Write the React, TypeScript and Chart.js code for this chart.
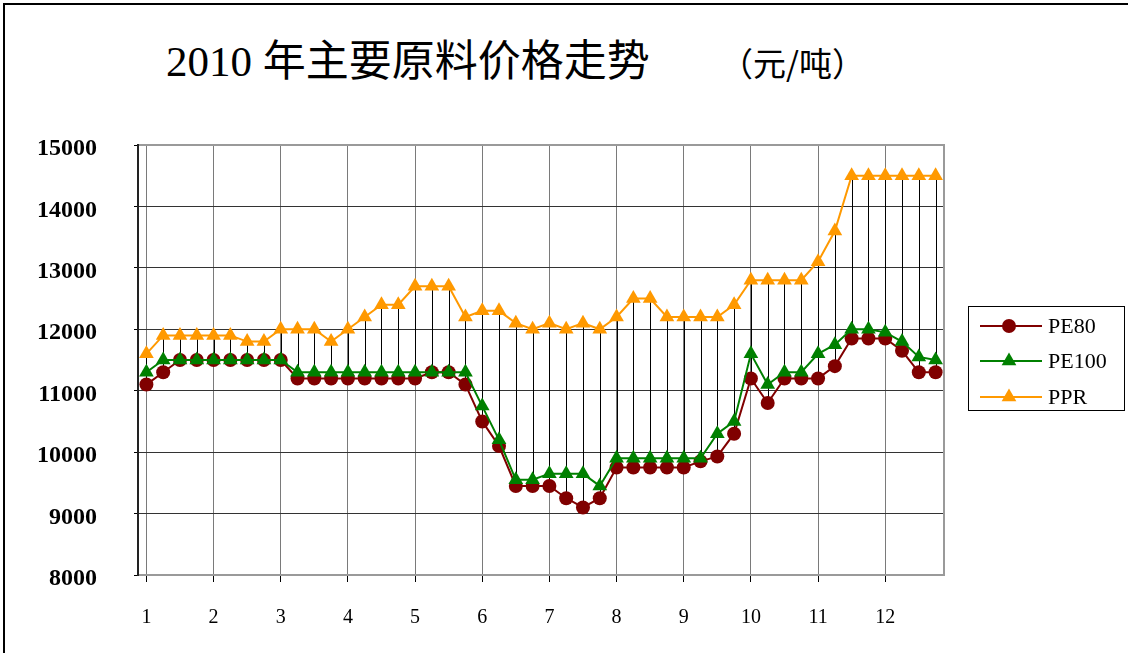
import React, { useEffect, useRef } from 'react';
import { Chart, registerables } from 'chart.js';

Chart.register(...registerables);

const monthLabels = ['1', '2', '3', '4', '5', '6', '7', '8', '9', '10', '11', '12'];
const pointsPerMonth = 4;

const pe80 = [
  11100, 11300, 11500, 11500, 11500, 11500, 11500, 11500, 11500, 11200, 11200, 11200,
  11200, 11200, 11200, 11200, 11200, 11300, 11300, 11100, 10500, 10100, 9450, 9450,
  9450, 9250, 9100, 9250, 9750, 9750, 9750, 9750, 9750, 9850, 9930, 10300,
  11200, 10800, 11200, 11200, 11200, 11400, 11850, 11850, 11850, 11650, 11300, 11300,
];
const pe100 = [
  11300, 11500, 11500, 11500, 11500, 11500, 11500, 11500, 11500, 11300, 11300, 11300,
  11300, 11300, 11300, 11300, 11300, 11300, 11300, 11300, 10750, 10200, 9550, 9550,
  9650, 9650, 9650, 9450, 9900, 9900, 9900, 9900, 9900, 9900, 10300, 10500,
  11600, 11100, 11300, 11300, 11600, 11750, 12000, 12000, 11950, 11800, 11550, 11500,
];
const ppr = [
  11600, 11900, 11900, 11900, 11900, 11900, 11800, 11800, 12000, 12000, 12000, 11800,
  12000, 12200, 12400, 12400, 12700, 12700, 12700, 12200, 12300, 12300, 12100, 12000,
  12100, 12000, 12100, 12000, 12200, 12500, 12500, 12200, 12200, 12200, 12200, 12400,
  12800, 12800, 12800, 12800, 13100, 13600, 14500, 14500, 14500, 14500, 14500, 14500,
];

const seriesNames = ['PE80', 'PE100', 'PPR'];
const seriesColors = ['#800000', '#008000', '#FF9900'];
const seriesMarkers = ['circle', 'triangle', 'triangle'];
const yMin = 8000;
const yMax = 15000;
const yStep = 1000;

const titleMain = '2010 年主要原料价格走势';
const titleUnit = '（元/吨）';

const categories = pe80.map((_, i) =>
  i % pointsPerMonth === 0 ? monthLabels[i / pointsPerMonth] : ''
);

const hiLoPlugin = {
  id: 'hiLo',
  beforeDatasetsDraw(chart: any) {
    const { ctx, chartArea } = chart;
    const xs = chart.scales.x;
    const ys = chart.scales.y;
    ctx.save();
    ctx.strokeStyle = '#9a9a9a';
    ctx.lineWidth = 2;
    ctx.strokeRect(chartArea.left, chartArea.top, chartArea.right - chartArea.left, chartArea.bottom - chartArea.top);
    ctx.strokeStyle = '#222';
    ctx.lineWidth = 2;
    ctx.beginPath();
    ctx.moveTo(chartArea.left, chartArea.top - 1);
    ctx.lineTo(chartArea.left, chartArea.bottom + 1);
    ctx.stroke();
    ctx.strokeStyle = '#000';
    ctx.lineWidth = 1;
    const n = chart.data.labels.length;
    for (let i = 0; i < n; i++) {
      const vals = chart.data.datasets.map((d: any) => d.data[i]);
      const hi = Math.max(...vals);
      const lo = Math.min(...vals);
      const px = Math.round(xs.getPixelForValue(i)) + 0.5;
      ctx.beginPath();
      ctx.moveTo(px, ys.getPixelForValue(hi));
      ctx.lineTo(px, ys.getPixelForValue(lo));
      ctx.stroke();
    }
    ctx.restore();
  },
};

const legendPlugin = {
  id: 'boxLegend',
  afterDraw(chart: any) {
    const ctx = chart.ctx;
    ctx.save();
    const bx = 968, by = 306, bw = 156, bh = 104;
    ctx.strokeStyle = '#000';
    ctx.lineWidth = 1;
    ctx.strokeRect(bx + 0.5, by + 0.5, bw, bh);
    const rows = [326, 361, 397];
    seriesNames.forEach((name, i) => {
      const y = rows[i];
      ctx.strokeStyle = seriesColors[i];
      ctx.lineWidth = 2;
      ctx.beginPath();
      ctx.moveTo(980, y);
      ctx.lineTo(1042, y);
      ctx.stroke();
      ctx.fillStyle = seriesColors[i];
      ctx.beginPath();
      if (seriesMarkers[i] === 'circle') {
        ctx.arc(1009, y, 7, 0, Math.PI * 2);
      } else {
        const r = 8.5;
        ctx.moveTo(1009, y - r);
        ctx.lineTo(1009 + r * 0.866, y + r * 0.5);
        ctx.lineTo(1009 - r * 0.866, y + r * 0.5);
        ctx.closePath();
      }
      ctx.fill();
      ctx.fillStyle = '#000';
      ctx.font = '22px "Liberation Serif", serif';
      ctx.textBaseline = 'middle';
      ctx.textAlign = 'left';
      ctx.fillText(name, 1048, y + 1);
    });
    ctx.restore();
  },
};

export default function App() {
  const ref = useRef<HTMLCanvasElement | null>(null);

  useEffect(() => {
    document.body.style.margin = '0';
    const canvas = ref.current;
    if (!canvas) return;
    const datasets = [pe80, pe100, ppr].map((data, i) => ({
      label: seriesNames[i],
      data,
      borderColor: seriesColors[i],
      backgroundColor: seriesColors[i],
      borderWidth: 2,
      pointStyle: seriesMarkers[i],
      pointRadius: seriesMarkers[i] === 'circle' ? 7 : 8.5,
      pointBorderWidth: 0,
      pointBackgroundColor: seriesColors[i],
      tension: 0,
      order: 3 - i,
    }));
    const chart = new Chart(canvas, {
      type: 'line',
      data: { labels: categories, datasets },
      options: {
        animation: false,
        responsive: false,
        devicePixelRatio: 1,
        layout: { padding: { left: 0, right: 184, top: 145, bottom: 0 } },
        plugins: {
          legend: { display: false },
          tooltip: { enabled: false },
          title: { display: false },
        },
        scales: {
          x: {
            type: 'category',
            offset: true,
            afterFit: (s: any) => { s.height = 78; },
            grid: {
              offset: false,
              color: (c: any) => (c.index % pointsPerMonth === 0 ? '#7a7a7a' : 'rgba(0,0,0,0)'),
              tickColor: (c: any) => (c.index % pointsPerMonth === 0 ? '#000' : 'rgba(0,0,0,0)'),
              tickLength: 7,
              lineWidth: 1,
            },
            border: { display: false },
            ticks: {
              autoSkip: false,
              maxRotation: 0,
              minRotation: 0,
              padding: 24,
              color: '#000',
              font: { family: '"Liberation Serif", serif', size: 20 },
            },
          },
          y: {
            min: yMin,
            max: yMax,
            afterFit: (s: any) => { s.width = 138; },
            grid: { color: '#333', tickColor: '#000', tickLength: 4, lineWidth: 1 },
            border: { display: false },
            ticks: {
              stepSize: yStep,
              padding: 37,
              labelOffset: 4,
              color: '#000',
              callback: (v: any) => String(v),
              font: { family: '"Liberation Serif", serif', size: 24, weight: 'bold' },
            },
          },
        },
      },
      plugins: [hiLoPlugin, legendPlugin],
    } as any);
    return () => chart.destroy();
  }, []);

  return (
    <div style={{ position: 'absolute', left: 0, top: 0, width: 1128, height: 653, overflow: 'hidden', background: '#fff' }}>
      <div style={{ position: 'absolute', left: 3, top: 3, width: 1200, height: 700, borderTop: '2px solid #000', borderLeft: '2px solid #000' }} />
      <div style={{ position: 'absolute', left: 166, top: 35, fontSize: 43, lineHeight: '54px', color: '#000', whiteSpace: 'pre', fontFamily: '"Liberation Serif", "Noto Sans CJK SC", serif' }}>
        {titleMain}
      </div>
      <div style={{ position: 'absolute', left: 720, top: 42, fontSize: 33, lineHeight: '40px', color: '#000', whiteSpace: 'pre', fontFamily: '"Noto Sans CJK SC", sans-serif' }}>
        {titleUnit}
      </div>
      <canvas ref={ref} width={1128} height={653} style={{ position: 'absolute', left: 0, top: 0, width: 1128, height: 653 }} />
    </div>
  );
}
